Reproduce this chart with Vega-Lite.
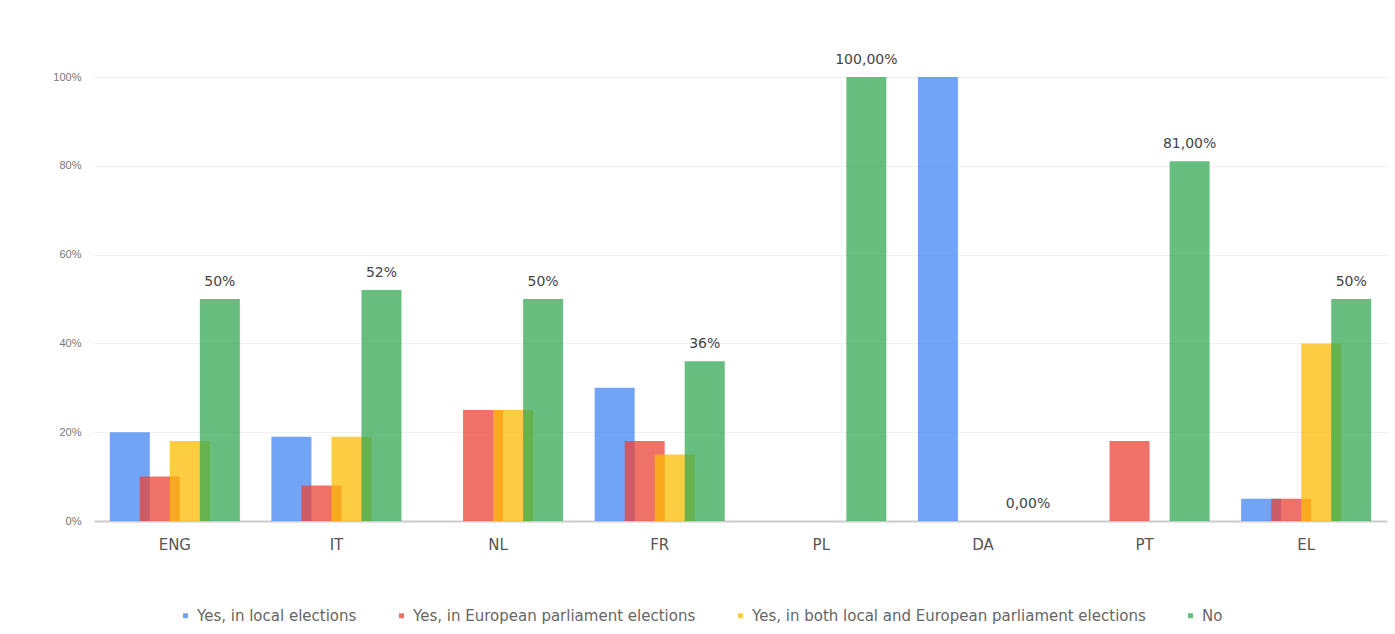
{
  "$schema": "https://vega.github.io/schema/vega-lite/v6.json",
  "width": 1293,
  "height": 444,
  "autosize": {"type": "none"},
  "padding": {"left": 94, "top": 77, "right": 8, "bottom": 113},
  "background": "white",
  "config": {
    "font": "DejaVu Sans",
    "view": {"stroke": null}
  },
  "data": {
    "values": [
      {"country": "ENG", "series": "Yes, in local elections", "value": 20, "label": ""},
      {"country": "ENG", "series": "Yes, in European parliament elections", "value": 10, "label": ""},
      {"country": "ENG", "series": "Yes, in both local and European parliament elections", "value": 18, "label": ""},
      {"country": "ENG", "series": "No", "value": 50, "label": "50%"},
      {"country": "IT", "series": "Yes, in local elections", "value": 19, "label": ""},
      {"country": "IT", "series": "Yes, in European parliament elections", "value": 8, "label": ""},
      {"country": "IT", "series": "Yes, in both local and European parliament elections", "value": 19, "label": ""},
      {"country": "IT", "series": "No", "value": 52, "label": "52%"},
      {"country": "NL", "series": "Yes, in local elections", "value": 0, "label": ""},
      {"country": "NL", "series": "Yes, in European parliament elections", "value": 25, "label": ""},
      {"country": "NL", "series": "Yes, in both local and European parliament elections", "value": 25, "label": ""},
      {"country": "NL", "series": "No", "value": 50, "label": "50%"},
      {"country": "FR", "series": "Yes, in local elections", "value": 30, "label": ""},
      {"country": "FR", "series": "Yes, in European parliament elections", "value": 18, "label": ""},
      {"country": "FR", "series": "Yes, in both local and European parliament elections", "value": 15, "label": ""},
      {"country": "FR", "series": "No", "value": 36, "label": "36%"},
      {"country": "PL", "series": "Yes, in local elections", "value": 0, "label": ""},
      {"country": "PL", "series": "Yes, in European parliament elections", "value": 0, "label": ""},
      {"country": "PL", "series": "Yes, in both local and European parliament elections", "value": 0, "label": ""},
      {"country": "PL", "series": "No", "value": 100, "label": "100,00%"},
      {"country": "DA", "series": "Yes, in local elections", "value": 100, "label": ""},
      {"country": "DA", "series": "Yes, in European parliament elections", "value": 0, "label": ""},
      {"country": "DA", "series": "Yes, in both local and European parliament elections", "value": 0, "label": ""},
      {"country": "DA", "series": "No", "value": 0, "label": "0,00%"},
      {"country": "PT", "series": "Yes, in local elections", "value": 0, "label": ""},
      {"country": "PT", "series": "Yes, in European parliament elections", "value": 18, "label": ""},
      {"country": "PT", "series": "Yes, in both local and European parliament elections", "value": 0, "label": ""},
      {"country": "PT", "series": "No", "value": 81, "label": "81,00%"},
      {"country": "EL", "series": "Yes, in local elections", "value": 5, "label": ""},
      {"country": "EL", "series": "Yes, in European parliament elections", "value": 5, "label": ""},
      {"country": "EL", "series": "Yes, in both local and European parliament elections", "value": 40, "label": ""},
      {"country": "EL", "series": "No", "value": 50, "label": "50%"}
    ]
  },
  "encoding": {
    "x": {
      "field": "country",
      "type": "nominal",
      "sort": null,
      "scale": {"paddingInner": 0.257, "paddingOuter": 0.1285},
      "axis": {
        "title": null,
        "labelAngle": 0,
        "labelFontSize": 15,
        "labelColor": "#555555",
        "labelPadding": 16,
        "ticks": false,
        "domainColor": "#cccccc",
        "domainWidth": 2
      }
    },
    "xOffset": {
      "field": "series",
      "type": "nominal",
      "sort": null,
      "scale": {
        "domain": ["Yes, in local elections", "Yes, in European parliament elections", "Yes, in both local and European parliament elections", "No"],
        "paddingInner": 0,
        "paddingOuter": 0
      }
    },
    "y": {
      "field": "value",
      "type": "quantitative",
      "stack": null,
      "scale": {"domain": [0, 100], "nice": false},
      "axis": {
        "title": null,
        "values": [0, 20, 40, 60, 80, 100],
        "labelExpr": "datum.value + '%'",
        "labelFont": "Liberation Sans",
        "labelFontSize": 11,
        "labelColor": "#777777",
        "labelPadding": 13,
        "ticks": false,
        "domain": false,
        "gridColor": "#f0f0f0",
        "gridWidth": 1
      }
    }
  },
  "layer": [
    {
      "mark": {"type": "bar", "width": 40, "fillOpacity": 0.75},
      "encoding": {
        "color": {
          "field": "series",
          "type": "nominal",
          "sort": null,
          "scale": {
            "domain": ["Yes, in local elections", "Yes, in European parliament elections", "Yes, in both local and European parliament elections", "No"],
            "range": ["#4285f4", "#ea4335", "#fbbc04", "#34a853"]
          },
          "legend": {
            "title": null,
            "orient": "none",
            "direction": "horizontal",
            "legendX": 84,
            "legendY": 531,
            "symbolType": "square",
            "symbolSize": 25,
            "symbolOpacity": 0.75,
            "labelFontSize": 15,
            "labelColor": "#666666",
            "labelLimit": 600,
            "columnPadding": 37,
            "symbolOffset": 0
          }
        }
      }
    },
    {
      "transform": [{"filter": "datum.series === 'No'"}],
      "mark": {"type": "text", "dy": -17, "fontSize": 14, "color": "#444444", "baseline": "middle"},
      "encoding": {
        "text": {"field": "label", "type": "nominal"}
      }
    }
  ]
}
